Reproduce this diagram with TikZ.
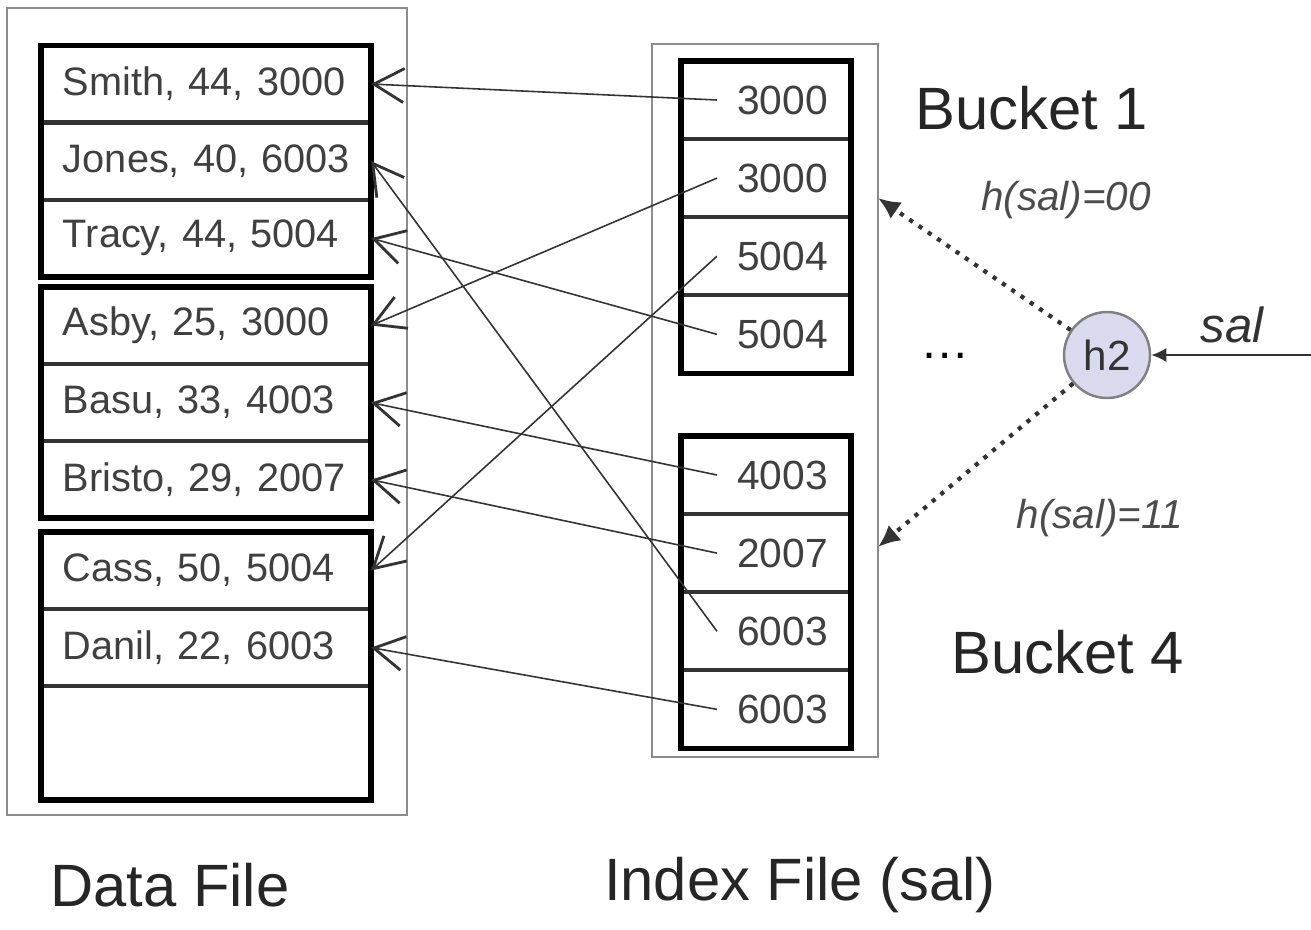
\documentclass[tikz,border=0pt]{standalone}
\usepackage{fontspec}
\setmainfont{Liberation Sans}
\usetikzlibrary{positioning,arrows.meta}

\definecolor{hashfill}{RGB}{218,218,238}

\tikzstyle{cell} = [draw=black!80, line width=0.6pt, rectangle, inner ysep=0pt, text=black!75, font=\fontsize{11.6}{14}\selectfont]
\tikzstyle{data-cell} = [cell, text width=3.04cm, inner xsep=0.12cm, minimum height=0.75cm, align=left, font=\fontsize{11.3}{14}\selectfont]
\tikzstyle{index-cell} = [cell, text width=1.24cm, inner xsep=0.22cm, minimum height=0.76cm, align=right]
\tikzstyle{group} = [draw=black, line width=1.6pt]
\tikzstyle{frame} = [draw=black!45, line width=0.6pt]
\tikzstyle{pointer} = [line width=0.45pt, black!80, -{Straight Barb[length=0.3cm, width=0.34cm, line width=0.8pt]}]
\tikzstyle{hashed} = [line width=1.2pt, dotted, black!80, -{Latex[length=0.22cm, width=0.2cm]}]
\tikzstyle{big-label} = [font=\fontsize{17}{20}\selectfont, text=black!85]
\tikzstyle{hash-label} = [font=\fontsize{11.5}{13}\selectfont\itshape, text=black!70]

\begin{document}
\begin{tikzpicture}
	\useasboundingbox (0,0) rectangle (13.11,-9.29);

	% data file
	\draw [frame] (0.07,-0.08) rectangle (4.07,-8.15);
	\node [data-cell] (Smith) at (2.06,-0.84) {\hspace*{0.09cm}Smith, 44, 3000};
	\node [data-cell, below=0pt of Smith] (Jones) {\hspace*{0.09cm}Jones, 40, 6003};
	\node [data-cell, below=0pt of Jones] (Tracy) {\hspace*{0.09cm}Tracy, 44, 5004};
	\node [data-cell] (Asby) at (2.06,-3.255) {\hspace*{0.09cm}Asby, 25, 3000};
	\node [data-cell, below=0pt of Asby] (Basu) {\hspace*{0.09cm}Basu, 33, 4003};
	\node [data-cell, below=0pt of Basu] (Bristo) {\hspace*{0.09cm}Bristo, 29, 2007};
	\node [data-cell] (Cass) at (2.06,-5.705) {\hspace*{0.09cm}Cass, 50, 5004};
	\node [data-cell, below=0pt of Cass] (Danil) {\hspace*{0.09cm}Danil, 22, 6003};
	\node [data-cell, minimum height=1.12cm, below=0pt of Danil] (Empty) {};

	\draw [group] (Smith.north west) rectangle (Tracy.south east);
	\draw [group] (Asby.north west) rectangle (Bristo.south east);
	\draw [group] (Cass.north west) rectangle (Empty.south east);

	% index file
	\draw [frame] (6.52,-0.44) rectangle (8.78,-7.57);
	\node [index-cell] (IdxA) at (7.66,-1.00) {3000};
	\node [index-cell, below=0pt of IdxA] (IdxB) {3000};
	\node [index-cell, below=0pt of IdxB] (IdxC) {5004};
	\node [index-cell, below=0pt of IdxC] (IdxD) {5004};
	\node [index-cell] (IdxE) at (7.66,-4.75) {4003};
	\node [index-cell, below=0pt of IdxE] (IdxF) {2007};
	\node [index-cell, below=0pt of IdxF] (IdxG) {6003};
	\node [index-cell, below=0pt of IdxG] (IdxH) {6003};

	\draw [group] (IdxA.north west) rectangle (IdxD.south east);
	\draw [group] (IdxE.north west) rectangle (IdxH.south east);

	% pointers
	\draw [pointer] ([xshift=0.36cm]IdxA.west) -- (Smith.east);
	\draw [pointer] ([xshift=0.36cm]IdxB.west) -- (Asby.east);
	\draw [pointer] ([xshift=0.36cm]IdxC.west) -- (Cass.east);
	\draw [pointer] ([xshift=0.36cm]IdxD.west) -- (Tracy.east);
	\draw [pointer] ([xshift=0.36cm]IdxE.west) -- (Basu.east);
	\draw [pointer] ([xshift=0.36cm]IdxF.west) -- (Bristo.east);
	\draw [pointer] ([xshift=0.36cm]IdxG.west) -- (Jones.east);
	\draw [pointer] ([xshift=0.36cm]IdxH.west) -- (Danil.east);

	% hash function
	\node [big-label] (BktOne) at (10.32,-1.08) {Bucket 1};
	\node [big-label] (BktFour) at (10.68,-6.52) {Bucket 4};
	\node [font=\fontsize{14}{16}\selectfont] (Dots) at (9.45,-3.56) {\dots};
	\node [circle, draw=black!50, line width=0.7pt, fill=hashfill, minimum size=0.86cm, inner sep=0pt, font=\fontsize{12}{14}\selectfont, text=black!80] (H2) at (11.07,-3.55) {h2};
	\coordinate (SalIn) at (13.11,-3.55);
	\coordinate (BktOneIn) at (8.78,-1.98);
	\coordinate (BktFourIn) at (8.78,-5.47);
	\node [font=\fontsize{14}{16}\selectfont\itshape, text=black!80] (Sal) at (12.32,-3.25) {sal};
	\node [hash-label] (HashZero) at (10.66,-2.0) {h(sal)=00};
	\node [hash-label] (HashOne) at (11.0,-5.18) {h(sal)=11};

	\draw [line width=0.6pt, black!80, -{Latex[length=0.15cm, width=0.14cm]}] (SalIn) -- (H2);
	\draw [hashed] (H2) -- (BktOneIn);
	\draw [hashed] (H2) -- (BktFourIn);

	% captions
	\node [big-label] (DataCap) at (1.70,-8.85) {Data File};
	\node [big-label] (IndexCap) at (8.0,-8.85) {Index File (sal)};

\end{tikzpicture}
\end{document}
